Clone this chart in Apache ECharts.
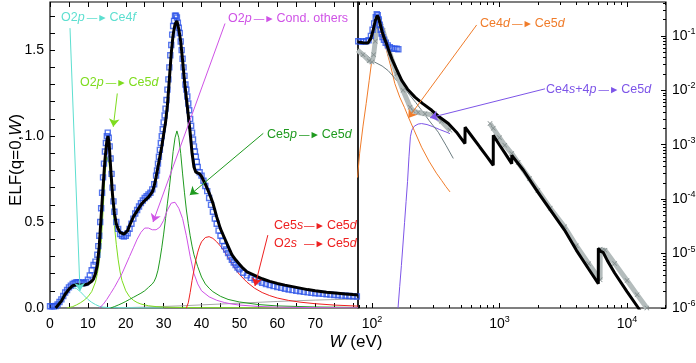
<!DOCTYPE html>
<html>
<head>
<meta charset="utf-8">
<script src="https://cdn.jsdelivr.net/npm/echarts@6/dist/echarts.min.js"></script>
<style>
html,body{margin:0;padding:0;background:#fff;}
#main{width:696px;height:363px;}
</style>
</head>
<body>
<div id="main"></div>
<script>
// ---- left panel (W in eV, linear) ----
var leftTotal = [[1.5,0],[2,0.01],[3,0.04],[4,0.08],[5,0.11],[6,0.13],[7,0.135],[8,0.134],[9,0.134],[10,0.14],[11,0.155],[11.5,0.17],[12,0.2],[12.5,0.25],[13,0.36],[13.5,0.53],[14,0.7],[14.5,0.86],[15,0.97],[15.3,1.0],[15.6,0.96],[16,0.82],[16.5,0.66],[17,0.55],[17.5,0.49],[18,0.46],[18.5,0.44],[19,0.433],[19.5,0.43],[20,0.435],[20.5,0.45],[21,0.48],[22,0.53],[23,0.565],[24,0.6],[25,0.625],[26,0.645],[27,0.675],[27.5,0.71],[28,0.76],[28.5,0.82],[29,0.88],[29.5,0.94],[30,1.01],[30.5,1.08],[31,1.18],[31.5,1.33],[32,1.48],[32.5,1.59],[33,1.65],[33.5,1.67],[34,1.62],[34.5,1.55],[35,1.44],[35.5,1.32],[36,1.22],[36.5,1.12],[37,1.02],[37.5,0.9],[38,0.82],[38.5,0.79],[39,0.785],[39.5,0.78],[40,0.765],[41,0.72],[42,0.67],[43,0.61],[44,0.53],[45,0.46],[46,0.41],[47,0.36],[48,0.31],[49,0.28],[50,0.255],[51,0.23],[52,0.21],[53,0.2],[54,0.19],[56,0.17],[58,0.155],[60,0.143],[62,0.133],[65,0.12],[68,0.107],[70,0.1],[73,0.092],[76,0.086],[78,0.082],[80,0.078],[81.3,0.076]];

var leftExp = [[0,0.01],[0.5,0.01],[1,0.01],[1.5,0.012],[2,0.02],[2.5,0.035],[3,0.05],[3.5,0.07],[4,0.09],[4.5,0.105],[5,0.12],[5.5,0.13],[6,0.14],[6.5,0.145],[7,0.15],[7.5,0.15],[8,0.148],[8.5,0.145],[9,0.145],[9.5,0.15],[10,0.165],[10.5,0.19],[11,0.22],[11.5,0.25],[12,0.27],[12.5,0.31],[12.75,0.36],[13,0.42],[13.25,0.5],[13.5,0.58],[13.75,0.67],[14,0.76],[14.25,0.84],[14.5,0.91],[14.75,0.96],[15,1.0],[15.25,1.02],[15.5,0.99],[15.75,0.94],[16,0.87],[16.25,0.78],[16.5,0.7],[16.75,0.62],[17,0.56],[17.5,0.5],[18,0.46],[18.5,0.43],[19,0.42],[19.5,0.415],[20,0.42],[20.5,0.435],[21,0.46],[21.5,0.49],[22,0.52],[22.5,0.55],[23,0.57],[23.5,0.59],[24,0.61],[24.5,0.625],[25,0.64],[25.5,0.65],[26,0.66],[26.5,0.67],[27,0.69],[27.5,0.72],[28,0.77],[28.25,0.8],[28.5,0.84],[28.75,0.88],[29,0.92],[29.25,0.96],[29.5,1.0],[29.75,1.04],[30,1.08],[30.25,1.12],[30.5,1.16],[30.75,1.21],[31,1.27],[31.25,1.33],[31.5,1.4],[31.75,1.47],[32,1.53],[32.25,1.59],[32.5,1.64],[32.75,1.67],[33,1.7],[33.25,1.7],[33.5,1.69],[33.75,1.66],[34,1.63],[34.25,1.6],[34.5,1.55],[34.75,1.5],[35,1.45],[35.25,1.4],[35.5,1.35],[35.75,1.3],[36,1.27],[36.25,1.23],[36.5,1.19],[36.75,1.15],[37,1.1],[37.25,1.06],[37.5,1.02],[37.75,0.98],[38,0.94],[38.25,0.91],[38.5,0.88],[38.75,0.85],[39,0.82],[39.5,0.79],[40,0.77],[40.5,0.74],[41,0.71],[41.5,0.68],[42,0.64],[42.5,0.6],[43,0.56],[43.5,0.52],[44,0.49],[44.5,0.45],[45,0.42],[45.5,0.39],[46,0.36],[46.5,0.34],[47,0.32],[47.5,0.3],[48,0.28],[48.5,0.265],[49,0.25],[49.5,0.235],[50,0.225],[51,0.205],[52,0.19],[53,0.175],[54,0.165],[55,0.155],[56,0.147],[57,0.14],[58,0.133],[59,0.127],[60,0.122],[61,0.117],[62,0.112],[63,0.108],[64,0.104],[65,0.1],[66,0.097],[67,0.094],[68,0.091],[69,0.088],[70,0.086],[71,0.084],[72,0.082],[73,0.08],[74,0.078],[75,0.076],[76,0.074],[77,0.072],[78,0.071],[79,0.07],[80,0.068],[81,0.067]];

var o2pCe4f = [[1.5,0],[2,0.02],[3,0.06],[4,0.09],[5,0.11],[6,0.118],[7,0.113],[8,0.095],[9,0.072],[10,0.05],[11,0.033],[12,0.02],[13,0.01],[14,0.005],[16,0.002],[20,0.001],[30,0]];
var o2pCe5d = [[4.5,0],[6,0.008],[7,0.018],[8,0.03],[9,0.045],[10,0.065],[11,0.095],[12,0.15],[12.5,0.2],[13,0.27],[13.5,0.38],[14,0.56],[14.5,0.77],[15,0.88],[15.3,0.89],[15.6,0.84],[16,0.74],[16.5,0.62],[17,0.48],[17.5,0.37],[18,0.28],[18.5,0.21],[19,0.16],[20,0.1],[21,0.065],[22,0.045],[23,0.032],[24,0.023],[26,0.013],[28,0.008],[30,0.005],[35,0.003],[40,0.002],[60,0.001],[81.3,0.001]];
var ce5pCe5d = [[16,0],[17,0.008],[18,0.017],[19,0.027],[20,0.038],[21,0.05],[22,0.062],[23,0.074],[24,0.086],[25,0.1],[26,0.12],[27,0.14],[27.5,0.155],[28,0.18],[28.5,0.22],[29,0.28],[29.5,0.35],[30,0.43],[30.5,0.52],[31,0.61],[31.5,0.7],[32,0.8],[32.5,0.91],[33,0.99],[33.5,1.03],[34,0.99],[34.5,0.9],[35,0.78],[35.5,0.67],[36,0.57],[36.5,0.49],[37,0.42],[37.5,0.36],[38,0.31],[39,0.24],[40,0.18],[41,0.14],[42,0.115],[43,0.095],[45,0.068],[47,0.05],[50,0.035],[55,0.02],[60,0.012],[70,0.006],[81.3,0.003]];
var o2pOthers = [[13,0],[14,0.02],[15,0.05],[16,0.085],[17,0.12],[18,0.16],[19,0.2],[20,0.25],[21,0.3],[22,0.35],[23,0.4],[24,0.44],[25,0.465],[26,0.465],[27,0.455],[28,0.455],[29,0.47],[30,0.51],[31,0.57],[32,0.61],[32.5,0.62],[33,0.615],[34,0.58],[35,0.52],[36,0.42],[37,0.3],[38,0.2],[39,0.14],[40,0.1],[42,0.065],[44,0.045],[46,0.032],[48,0.023],[50,0.017],[55,0.009],[60,0.005],[70,0.002],[81.3,0.001]];
var sToCe5d = [[36,0],[36.5,0.03],[37,0.09],[37.5,0.16],[38,0.22],[38.5,0.28],[39,0.325],[39.5,0.36],[40,0.385],[41,0.41],[42,0.415],[43,0.405],[44,0.385],[45,0.36],[46,0.33],[47,0.295],[48,0.26],[49,0.225],[50,0.195],[52,0.15],[54,0.115],[56,0.09],[58,0.072],[60,0.058],[63,0.044],[66,0.034],[70,0.025],[75,0.017],[81.3,0.011]];
var leftRest = [[18,0],[20,0.002],[25,0.005],[30,0.009],[35,0.013],[40,0.018],[45,0.023],[50,0.028],[55,0.033],[60,0.038],[65,0.042],[70,0.046],[75,0.049],[81.3,0.052]];

// ---- right panel (W in eV, log-log) ----
var rightTotal = [[77,0.077],[85,0.075],[93,0.074],[98,0.09],[102,0.126],[106,0.19],[110,0.238],[113,0.21],[116,0.165],[120,0.12],[125,0.09],[130,0.072],[136,0.052],[143,0.038],[155,0.025],[171,0.0152],[190,0.0105],[217,0.0075],[250,0.0057],[294,0.0043],[340,0.0032],[397,0.00245],[460,0.0017],[536,0.00105],[537,0.0021],[600,0.00148],[700,0.00091],[800,0.0006],[893,0.00042],[894,0.00149],[1000,0.00099],[1100,0.00071],[1247,0.00045],[1248,0.00064],[1539,0.00034],[2000,0.000135],[3236,0.000027],[4000,0.0000116],[5000,0.0000052],[5957,0.0000028],[5958,0.0000125],[6200,0.000011],[6500,0.0000105],[7000,0.0000075],[8000,0.0000044],[10000,0.000002],[12280,0.000001],[13000,0.0000008]];
var rightExp = [[78,0.08],[82,0.079],[86,0.079],[90,0.08],[94,0.083],[98,0.1],[101,0.13],[104,0.17],[107,0.22],[109,0.25],[111,0.24],[113,0.2],[115,0.16],[117,0.13],[119,0.11],[121,0.095],[124,0.085],[128,0.075],[133,0.067],[138,0.062],[143,0.059],[150,0.058],[156,0.058],[161,0.057]];
var rightRef1 = [[77,0.055],[85,0.045],[95,0.035],[100,0.033],[103,0.045],[106,0.08],[109,0.14],[112,0.2],[115,0.19],[118,0.15],[122,0.126],[130,0.075],[138,0.048],[156,0.02],[175,0.01],[199,0.0049],[210,0.0042],[230,0.0039],[260,0.0037],[303,0.0035],[350,0.0027],[409,0.00185]];
var rightRef2 = [[842,0.00245],[893,0.002],[1000,0.00135],[1100,0.00098],[1247,0.00069],[1400,0.00047],[1716,0.00024],[2000,0.000144],[2500,0.000068],[3236,0.000031],[4000,0.000014],[5000,0.0000065],[6150,0.0000033],[6160,0.000012],[6400,0.0000115],[6720,0.0000115],[8000,0.0000066],[10000,0.0000032],[12000,0.00000176],[14300,0.000001]];
var rightOther = [[77,0.058],[90,0.045],[105,0.033],[120,0.028],[134,0.023],[150,0.017],[165,0.013],[181,0.0107],[200,0.0079],[220,0.006],[245,0.0043],[280,0.0028],[331,0.0017],[380,0.00098],[434,0.00056]];
var ce4dCe5d = [[77,0.00025],[80,0.0007],[85,0.0022],[90,0.0057],[95,0.015],[100,0.038],[105,0.09],[110,0.22],[115,0.14],[120,0.095],[130,0.054],[140,0.028],[151,0.0133],[165,0.0075],[180,0.0048],[193,0.0032],[215,0.0018],[245,0.0009],[280,0.0005],[320,0.0003],[352,0.00022],[380,0.00017],[409,0.000136]];
var ce4spCe5d = [[160,0.000001],[165,0.0000025],[170,0.000006],[175,0.000015],[180,0.000037],[185,0.00009],[190,0.00021],[195,0.0006],[200,0.0014],[205,0.00185],[215,0.0022],[230,0.0024],[245,0.00245],[270,0.00235],[300,0.00215],[340,0.0019],[380,0.00172],[409,0.0016]];

// ticks / labels
var leftTicksX = [0,5,10,15,20,25,30,35,40,45,50,55,60,65,70,75,80];
var leftLabelsX = [0,10,20,30,40,50,60,70];
var leftTicksY = [0,0.1,0.2,0.3,0.4,0.5,0.6,0.7,0.8,0.9,1.0,1.1,1.2,1.3,1.4,1.5,1.6,1.7];
var leftLabelsY = [0,0.5,1.0,1.5];
var rightMajorX = [100,1000,10000];
var rightMinorX = [80,90,200,300,400,500,600,700,800,900,2000,3000,4000,5000,6000,7000,8000,9000,20000];
var rightMajorY = [1e-6,1e-5,1e-4,1e-3,1e-2,1e-1];
var rightMinorY = [2e-6,3e-6,4e-6,5e-6,6e-6,7e-6,8e-6,9e-6,2e-5,3e-5,4e-5,5e-5,6e-5,7e-5,8e-5,9e-5,2e-4,3e-4,4e-4,5e-4,6e-4,7e-4,8e-4,9e-4,2e-3,3e-3,4e-3,5e-3,6e-3,7e-3,8e-3,9e-3,2e-2,3e-2,4e-2,5e-2,6e-2,7e-2,8e-2,9e-2,0.2,0.3,0.4];

var C = {cyan:'#5ddfd0', lime:'#7edc1e', green:'#1f9a1f', magenta:'#cf52e6', red:'#ee2020',
         orange:'#f07c2a', purple:'#7d55e8', blue:'#2c54e8', gray:'#a8a8a8', band:'#b4bcbc', slate:'#6c7c80'};
var FONT = "'Liberation Sans', Arial, sans-serif";
var Y_MIN = 1e-6, Y_MAX = 0.42;

// annotation arrows, in data coordinates
var arrowsLeft = [
  {color:C.cyan, from:[5.28,1.628], to:[7.92,0.099]},
  {color:C.lime, from:[17.76,1.248], to:[16.7,1.054]},
  {color:C.magenta, from:[46.2,1.655], to:[27.2,0.5]},
  {color:C.green, from:[56.3,1.016], to:[36.9,0.657]},
  {color:C.red, from:[57.5,0.424], to:[54.1,0.128]}
];
var arrowsRight = [
  {color:C.orange, from:[662,0.159], to:[192.6,0.00309]},
  {color:C.purple, from:[2275,0.01066], to:[285,0.00313]}
];

function line(data, color, width, xi, yi, z) {
  return {type:'line', data:data, xAxisIndex:xi, yAxisIndex:yi, symbol:'none', showSymbol:false,
    lineStyle:{color:color, width:width}, itemStyle:{color:color}, z:z || 2, silent:true};
}
function squares(data, xi, yi) {
  return {type:'scatter', data:data, xAxisIndex:xi, yAxisIndex:yi, symbol:'rect', symbolSize:5,
    itemStyle:{color:'rgba(255,255,255,0)', borderColor:C.blue, borderWidth:1.4}, z:3, silent:true};
}
function arrows(list, xi, yi) {
  return {type:'line', data:[], xAxisIndex:xi, yAxisIndex:yi, silent:true, z:6,
    markLine:{silent:true, animation:false, symbol:['none','arrow'], symbolSize:8, label:{show:false},
      data:list.map(function (a) {
        return [{coord:a.from, lineStyle:{color:a.color, width:1, type:'solid'}, itemStyle:{color:a.color}}, {coord:a.to}];
      })}};
}
var xMark = 'path://M0,1L1,0L5,4L9,0L10,1L6,5L10,9L9,10L5,6L1,10L0,9L4,5Z';

function tickAxis(extra) {
  var a = {axisLine:{show:false}, splitLine:{show:false}, axisLabel:{show:false},
    axisTick:{show:false}};
  for (var k in extra) a[k] = extra[k];
  return a;
}
function ticks(values, len) {
  return {show:true, inside:true, length:len, customValues:values, lineStyle:{color:'#000', width:1}};
}
var supRich = {b:{fontFamily:FONT, fontSize:14, color:'#000', lineHeight:18},
               s:{fontFamily:FONT, fontSize:9, color:'#000', lineHeight:10, verticalAlign:'top'}};
function log10(v) { return Math.log(v) / Math.LN10; }
function pow10(v) { return '{b|10}{s|' + Math.round(log10(v)) + '}'; }
function exp10(e) { return '{b|10}{s|' + Math.round(e) + '}'; }

var xAxes = [
  tickAxis({type:'value', gridIndex:0, position:'bottom', min:0, max:81.3, axisTick:ticks(leftTicksX, 5),
    axisLabel:{show:true, customValues:leftLabelsX, margin:9, fontFamily:FONT, fontSize:14, color:'#000'}}),
  tickAxis({type:'value', gridIndex:0, position:'top', min:0, max:81.3, axisTick:ticks(leftTicksX, 5)}),
  tickAxis({type:'log', logBase:10, gridIndex:1, position:'bottom', min:77.66, max:20220, axisTick:ticks(rightMajorX, 5),
    axisLabel:{show:true, customValues:rightMajorX, margin:7, formatter:pow10, rich:supRich}}),
  tickAxis({type:'log', logBase:10, gridIndex:1, position:'top', min:77.66, max:20220, axisTick:ticks(rightMajorX, 5)}),
  tickAxis({type:'log', logBase:10, gridIndex:1, position:'bottom', min:77.66, max:20220, axisTick:ticks(rightMinorX, 3)}),
  tickAxis({type:'log', logBase:10, gridIndex:1, position:'top', min:77.66, max:20220, axisTick:ticks(rightMinorX, 3)})
];
var yAxes = [
  tickAxis({type:'value', gridIndex:0, position:'left', min:0, max:1.78, axisTick:ticks(leftTicksY, 5),
    axisLabel:{show:true, customValues:leftLabelsY, margin:6, fontFamily:FONT, fontSize:14, color:'#000',
      formatter:function (v) { return v.toFixed(1); }}}),
  // data axis of the right panel (log); its decade ticks are drawn by the two axes below
  tickAxis({type:'log', logBase:10, gridIndex:1, position:'right', min:Y_MIN, max:Y_MAX}),
  tickAxis({type:'value', gridIndex:1, position:'right', min:log10(Y_MIN), max:log10(Y_MAX),
    axisTick:ticks(rightMajorY.map(log10), 5),
    axisLabel:{show:true, customValues:rightMajorY.map(log10), margin:6, formatter:exp10, rich:supRich}}),
  tickAxis({type:'value', gridIndex:1, position:'right', min:log10(Y_MIN), max:log10(Y_MAX),
    axisTick:ticks(rightMinorY.map(log10), 3)})
];

var ARROW = '{a|\u2014\u25BA}';
function note(x, y, text, color) {
  return {type:'text', x:x, y:y, silent:true, z:10, style:{text:text, verticalAlign:'middle', align:'left',
    rich:{n:{fontFamily:FONT, fontSize:12.5, fill:color},
          i:{fontFamily:FONT, fontSize:12.5, fill:color, fontStyle:'italic'},
          a:{fontFamily:FONT, fontSize:10.5, fill:color, padding:[0,2,0,2]}}}};
}

var chart = echarts.init(document.getElementById('main'), null, {renderer:'canvas'});
chart.setOption({
  animation:false,
  backgroundColor:'#fff',
  grid:[
    {left:50, top:2, width:308, height:306, show:true, borderColor:'#000', borderWidth:1.2,
     backgroundColor:'transparent', containLabel:false, outerBoundsMode:'none'},
    {left:358, top:2, width:308, height:306, show:true, borderColor:'#000', borderWidth:1.2,
     backgroundColor:'transparent', containLabel:false, outerBoundsMode:'none'}
  ],
  xAxis:xAxes,
  yAxis:yAxes,
  series:[
    line(leftRest, C.gray, 1, 0, 0),
    line(o2pCe4f, C.cyan, 1, 0, 0),
    line(o2pCe5d, C.lime, 1, 0, 0),
    line(ce5pCe5d, C.green, 1, 0, 0),
    line(o2pOthers, C.magenta, 1, 0, 0),
    line(sToCe5d, C.red, 1, 0, 0),
    squares(leftExp, 0, 0),
    line(leftTotal, '#000', 3, 0, 0, 4),
    arrows(arrowsLeft, 0, 0),

    line(ce4spCe5d, C.purple, 1, 2, 1),
    line(ce4dCe5d, C.orange, 1, 2, 1),
    line(rightOther, C.slate, 1, 2, 1),
    {type:'line', data:rightRef1, xAxisIndex:2, yAxisIndex:1, symbol:xMark, symbolSize:5, showSymbol:true,
      lineStyle:{color:C.band, width:5}, itemStyle:{color:'#7f8a8a'}, z:2, silent:true},
    {type:'line', data:rightRef2, xAxisIndex:2, yAxisIndex:1, symbol:xMark, symbolSize:5, showSymbol:true,
      lineStyle:{color:C.band, width:5}, itemStyle:{color:'#7f8a8a'}, z:2, silent:true},
    squares(rightExp, 2, 1),
    line(rightTotal, '#000', 3, 2, 1, 4),
    arrows(arrowsRight, 2, 1)
  ],
  graphic:[
    note(61, 18, '{n|O2}{i|p}' + ARROW + '{n|Ce4}{i|f}', C.cyan),
    note(80, 83, '{n|O2}{i|p}' + ARROW + '{n|Ce5}{i|d}', C.lime),
    note(228, 19, '{n|O2}{i|p}' + ARROW + '{n|Cond. others}', C.magenta),
    note(267, 135, '{n|Ce5}{i|p}' + ARROW + '{n|Ce5}{i|d}', C.green),
    note(274, 226, '{n|Ce5}{i|s}', C.red),
    note(302, 226, ARROW + '{n|Ce5}{i|d}', C.red),
    note(274, 244, '{n|O2}{i|s}', C.red),
    note(302, 244, ARROW + '{n|Ce5}{i|d}', C.red),
    note(480, 24, '{n|Ce4}{i|d}' + ARROW + '{n|Ce5}{i|d}', C.orange),
    note(546, 90, '{n|Ce4}{i|s}{n|+4}{i|p}' + ARROW + '{n|Ce5}{i|d}', C.purple),
    {type:'text', x:16, y:160, rotation:Math.PI / 2, silent:true,
      style:{text:'{n|ELF(q=0,}{i|W}{n|)}', align:'center', verticalAlign:'middle',
        rich:{n:{fontFamily:FONT, fontSize:17, fill:'#000'}, i:{fontFamily:FONT, fontSize:17, fill:'#000', fontStyle:'italic'}}}},
    {type:'text', x:356, y:342, silent:true,
      style:{text:'{i|W}{n| (eV)}', align:'center', verticalAlign:'middle',
        rich:{n:{fontFamily:FONT, fontSize:17, fill:'#000'}, i:{fontFamily:FONT, fontSize:17, fill:'#000', fontStyle:'italic'}}}}
  ]
});
</script>
</body>
</html>
